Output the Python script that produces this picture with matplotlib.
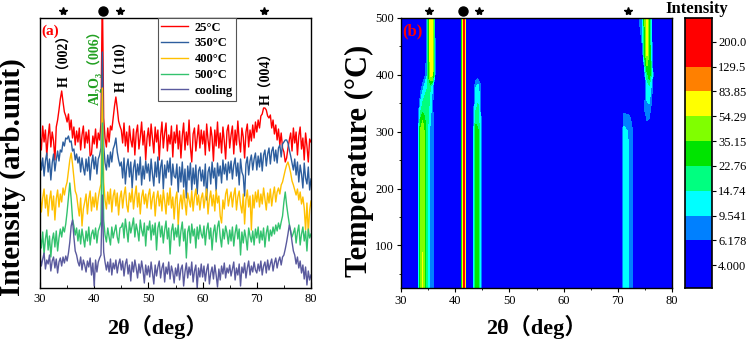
import numpy as np
import matplotlib
matplotlib.use("Agg")
import matplotlib.pyplot as plt
from matplotlib.ticker import MultipleLocator, NullLocator

plt.rcParams['font.family'] = ['Liberation Serif', 'DejaVu Serif', 'Noto Sans CJK SC']

# ---- panel (a): XRD patterns, 2theta = 30..80 step 0.25 ----
two_theta = 30 + 0.25 * np.arange(201)

i_25 = [155, 138, 162, 146, 158, 132, 151, 164, 141, 156, 147, 128, 161, 168, 178, 189, 197, 186, 176, 172,
        166, 174, 158, 168, 150, 161, 143, 157, 146, 160, 138, 153, 162, 140, 156, 145, 158, 132, 134, 152,
        144, 159, 140, 155, 148, 165, 300, 170, 150, 141, 160, 146, 162, 158, 170, 182, 191, 180, 167, 162,
        158, 145, 165, 142, 156, 136, 162, 148, 141, 159, 133, 155, 163, 139, 151, 166, 143, 157, 128, 150,
        160, 142, 164, 150, 135, 161, 146, 158, 128, 152, 166, 140, 155, 165, 137, 153, 144, 162, 131, 156,
        145, 163, 139, 157, 130, 152, 165, 138, 156, 143, 168, 141, 126, 154, 160, 137, 150, 163, 140, 158,
        144, 157, 133, 164, 148, 137, 161, 151, 127, 158, 142, 166, 140, 155, 135, 161, 147, 129, 157, 163,
        140, 153, 162, 134, 158, 143, 167, 148, 136, 160, 151, 130, 156, 164, 141, 158, 147, 163, 150, 166,
        156, 168, 160, 172, 174, 180, 180, 178, 172, 170, 173, 160, 168, 154, 163, 148, 159, 143, 155, 140,
        136, 126, 130, 140, 148, 155, 137, 160, 145, 156, 133, 152, 161, 139, 150, 128, 155, 142, 126, 149,
        146]
i_350 = [133, 118, 130, 112, 127, 135, 116, 129, 108, 125, 134, 117, 128, 137, 127, 138, 136, 146, 142, 150,
         149, 152, 146, 147, 137, 139, 128, 134, 125, 131, 116, 130, 120, 113, 129, 117, 131, 108, 124, 133,
         119, 131, 114, 129, 133, 140, 236, 142, 125, 118, 133, 121, 136, 126, 139, 143, 150, 136, 128, 122,
         126, 110, 130, 104, 121, 129, 111, 126, 100, 120, 128, 108, 124, 113, 131, 103, 122, 109, 127, 115,
         124, 107, 129, 114, 102, 126, 111, 131, 105, 121, 128, 99, 123, 110, 127, 116, 130, 103, 124, 112,
         110, 124, 96, 121, 106, 126, 101, 119, 90, 122, 108, 125, 98, 120, 104, 123, 94, 117, 121, 107,
         118, 102, 124, 88, 116, 121, 104, 126, 110, 120, 97, 125, 112, 122, 105, 128, 114, 124, 108, 126,
         115, 127, 109, 123, 130, 112, 125, 103, 129, 116, 112, 92, 124, 131, 113, 127, 133, 118, 129, 135,
         118, 132, 121, 135, 117, 133, 138, 122, 134, 140, 124, 137, 141, 127, 138, 125, 140, 143, 131, 144,
         146, 148, 148, 145, 138, 132, 125, 118, 129, 113, 126, 106, 123, 114, 100, 125, 110, 104, 121, 98,
         109]
i_400 = [96, 76, 90, 99, 80, 93, 72, 88, 97, 78, 92, 68, 89, 98, 81, 94, 86, 100, 93, 101,
         106, 117, 128, 135, 124, 110, 97, 93, 82, 72, 90, 62, 79, 86, 94, 74, 89, 97, 77, 91,
         81, 95, 78, 90, 98, 104, 200, 106, 88, 79, 96, 84, 99, 76, 92, 98, 82, 95, 73, 90,
         97, 80, 93, 101, 83, 76, 95, 86, 99, 79, 92, 102, 81, 95, 74, 91, 98, 84, 94, 80,
         93, 99, 79, 90, 96, 72, 89, 97, 82, 93, 77, 98, 87, 74, 95, 83, 100, 80, 91, 69,
         89, 96, 63, 84, 93, 79, 98, 85, 73, 95, 88, 81, 97, 77, 91, 99, 83, 93, 78, 90,
         95, 80, 91, 99, 74, 89, 97, 82, 93, 77, 98, 85, 92, 72, 65, 88, 79, 94, 99, 82,
         90, 96, 81, 93, 100, 78, 91, 97, 83, 75, 94, 64, 88, 98, 81, 92, 58, 93, 80, 96,
         86, 98, 81, 94, 84, 100, 89, 78, 95, 85, 99, 82, 93, 101, 86, 96, 100, 94, 103, 106,
         112, 118, 123, 126, 121, 115, 107, 103, 98, 93, 99, 88, 96, 84, 91, 80, 58, 85, 55, 78,
         87]
i_500 = [53, 40, 56, 34, 49, 58, 38, 52, 31, 48, 55, 41, 57, 37, 50, 59, 51, 61, 56, 64,
         76, 91, 105, 89, 69, 62, 53, 60, 47, 58, 44, 59, 50, 41, 57, 47, 61, 43, 54, 58,
         49, 60, 45, 57, 61, 66, 165, 68, 53, 46, 60, 51, 43, 61, 50, 57, 63, 51, 45, 60,
         61, 65, 50, 69, 58, 46, 66, 55, 62, 70, 51, 64, 57, 47, 68, 58, 52, 65, 42, 62,
         58, 67, 48, 63, 53, 65, 38, 60, 66, 51, 62, 45, 58, 67, 49, 60, 34, 57, 64, 48,
         60, 51, 63, 42, 57, 66, 47, 59, 30, 56, 62, 45, 64, 52, 59, 40, 61, 49, 63, 54,
         50, 62, 43, 58, 65, 49, 60, 38, 56, 63, 46, 61, 67, 51, 41, 59, 49, 62, 55, 44,
         58, 47, 61, 42, 55, 63, 49, 59, 33, 56, 45, 58, 50, 38, 60, 52, 46, 57, 43, 59,
         50, 61, 45, 57, 48, 60, 41, 55, 62, 47, 58, 52, 61, 54, 63, 57, 65, 59, 66, 72,
         86, 96, 83, 73, 64, 56, 51, 55, 60, 45, 56, 63, 43, 54, 61, 47, 57, 37, 59, 50,
         54]
i_cool = [32, 22, 29, 35, 19, 28, 24, 33, 17, 27, 31, 20, 29, 15, 26, 30, 22, 31, 25, 32,
          27, 35, 46, 62, 68, 51, 37, 33, 26, 22, 31, 18, 28, 23, 16, 27, 21, 30, 13, 25,
          2, 28, 16, 26, 30, 33, 93, 36, 26, 18, 26, 16, 29, 13, 25, 19, 28, 15, 24, 29,
          18, 27, 12, 24, 29, 14, 23, 7, 26, 16, 28, 20, 10, 24, 15, 27, 18, 5, 23, 13,
          22, 11, 26, 15, 4, 23, 12, 21, 27, 10, 20, 25, 6, 21, 14, 26, 9, 22, 16, 5,
          20, 12, 24, 8, 19, 23, 2, 16, 25, 10, 21, 13, 26, 6, 17, 23, 0, 20, 11, 24,
          11, 22, 7, 18, 24, 4, 15, 21, 9, 23, 13, 1, 19, 8, 22, 14, 25, 10, 20, 15,
          23, 12, 19, 26, 8, 20, 13, 24, 2, 21, 15, 25, 10, 20, 27, 13, 22, 16, 26, 18,
          15, 24, 17, 27, 13, 22, 26, 15, 28, 18, 24, 29, 17, 25, 30, 20, 27, 31, 23, 31,
          33, 39, 46, 54, 63, 57, 46, 37, 33, 24, 31, 20, 27, 15, 23, 9, 21, 3, 17, 8,
          13]

series = [i_25, i_350, i_400, i_500, i_cool]
labels = ['25°C', '350°C', '400°C', '500°C', 'cooling']
colors = ['#ff0000', '#2d5e9e', '#ffc000', '#33c26e', '#5a5a9e']

peak_text = ['H（002）', 'Al₂O₃（006）', 'H（110）', 'H（004）']
peak_text_x = [34.5, 40.0, 45.1, 71.9]
peak_text_y = [201, 183, 196, 183]
peak_text_col = ['black', '#22a022', 'black', 'black']

star_a = [34.3, 44.8, 71.4]
dot_a = [41.6]
star_b = [35.2, 44.4, 71.9]
dot_b = [41.5]

# ---- panel (b): intensity map ----
map_x = [30, 33.1, 33.3, 33.6, 34.0, 34.4, 34.8, 35.1, 35.4, 35.7, 36.0, 36.3,
         41.2, 41.4, 41.55, 41.7, 41.85, 42.0,
         43.3, 43.5, 43.8, 44.2, 44.6, 44.9,
         70.8, 71.1, 71.6, 72.2, 72.6, 72.9,
         74.6, 75.0, 75.4, 75.8, 76.2, 76.6, 80]
map_t = [25, 300, 340, 380, 400, 440, 500]
map_z = [
    [3.5, 3.5, 12, 40, 55, 28, 18, 11, 8, 9, 6.5, 3.5,
     3.5, 90, 250, 250, 12, 3.5,
     3.5, 12, 28, 25, 10, 3.5,
     3.5, 12, 11, 9, 7, 3.5,
     3.5, 3.5, 3.5, 3.5, 3.5, 3.5, 3.5],
    [3.5, 3.5, 11, 38, 52, 27, 17, 11, 8, 9, 6.5, 3.5,
     3.5, 90, 250, 250, 12, 3.5,
     3.5, 12, 27, 24, 10, 3.5,
     3.5, 11, 10, 9, 7, 3.5,
     3.5, 3.5, 3.5, 3.5, 3.5, 3.5, 3.5],
    [3.5, 3.5, 6, 12, 18, 20, 20, 15, 12, 8, 5, 3.5,
     3.5, 90, 250, 250, 12, 3.5,
     3.5, 7, 14, 16, 9, 3.5,
     3.5, 5, 5, 5, 4, 3.5,
     3.5, 6.5, 9, 8, 5, 3.5, 3.5],
    [3.5, 3.5, 3.5, 4, 7, 11, 14, 16, 15, 11, 5, 3.5,
     3.5, 90, 250, 250, 12, 3.5,
     3.5, 5, 9, 11, 7, 3.5,
     3.5, 3.5, 3.5, 3.5, 3.5, 3.5,
     3.5, 5, 11, 14, 9, 3.5, 3.5],
    [3.5, 3.5, 3.5, 3.5, 3.5, 5, 9, 25, 58, 62, 22, 5,
     3.5, 90, 250, 250, 12, 3.5,
     3.5, 3.5, 3.5, 3.5, 3.5, 3.5,
     3.5, 3.5, 3.5, 3.5, 3.5, 3.5,
     3.5, 6, 18, 30, 14, 4, 3.5],
    [3.5, 3.5, 3.5, 3.5, 3.5, 3.5, 7, 24, 62, 70, 24, 5,
     3.5, 90, 250, 250, 12, 3.5,
     3.5, 3.5, 3.5, 3.5, 3.5, 3.5,
     3.5, 3.5, 3.5, 3.5, 3.5, 3.5,
     6, 30, 62, 32, 8, 3.5, 3.5],
    [3.5, 3.5, 3.5, 3.5, 3.5, 3.5, 7, 25, 65, 70, 22, 4,
     3.5, 90, 250, 250, 12, 3.5,
     3.5, 3.5, 3.5, 3.5, 3.5, 3.5,
     3.5, 3.5, 3.5, 3.5, 3.5, 3.5,
     8, 35, 65, 28, 6, 3.5, 3.5],
]
map_levels = [2.69, 6.178, 9.541, 14.74, 22.76, 35.15, 54.29, 83.85, 129.5, 303]
map_colors = ['#0000ff', '#0080ff', '#00ffff', '#00ff80', '#00e400',
              '#80ff00', '#ffff00', '#ff8000', '#ff0000']
cb_ticks = [200.0, 129.5, 83.85, 54.29, 35.15, 22.76, 14.74, 9.541, 6.178, 4.0]
cb_labels = ['200.0', '129.5', '83.85', '54.29', '35.15', '22.76', '14.74', '9.541', '6.178', '4.000']

fig = plt.figure(figsize=(7.48, 3.41), dpi=100)
ax_a = fig.add_axes([40 / 748, 53 / 341, 271 / 748, 270 / 341])
ax_b = fig.add_axes([401 / 748, 53 / 341, 271 / 748, 270 / 341])
cax = fig.add_axes([685 / 748, 53 / 341, 27 / 748, 270 / 341])

# panel a
for y, lab, c in zip(series, labels, colors):
    ax_a.plot(two_theta, y, color=c, lw=1.0, label=lab)
ax_a.set_xlim(30, 80)
ax_a.set_ylim(0, 270)
ax_a.set_yticks([])
ax_a.xaxis.set_major_locator(MultipleLocator(10))
ax_a.xaxis.set_minor_locator(MultipleLocator(5))
ax_a.tick_params(axis='x', which='major', direction='in', length=4, labelsize=9)
ax_a.tick_params(axis='x', which='minor', direction='in', length=2)
ax_a.set_xlabel('2θ（deg）', fontsize=16, fontweight='bold')
ax_a.xaxis.set_label_coords(0.435, -0.1)
ax_a.set_ylabel('Intensity (arb.unit)', fontsize=21, fontweight='bold')
ax_a.yaxis.set_label_coords(-0.05, 0.41)
for t, x, y, c in zip(peak_text, peak_text_x, peak_text_y, peak_text_col):
    ax_a.text(x, y, t, rotation=90, ha='center', va='bottom', fontsize=10,
              fontweight='bold', color=c)
ax_a.text(0.004, 0.975, '(a)', transform=ax_a.transAxes, ha='left', va='top',
          fontsize=11, fontweight='bold', color='red')
leg = ax_a.legend(loc='upper left', bbox_to_anchor=(0.434, 1.0), borderaxespad=0,
                  prop={'weight': 'bold', 'size': 9}, handlelength=2.1,
                  handletextpad=0.55, labelspacing=0.3, borderpad=0.3,
                  fancybox=False, framealpha=1, edgecolor='#555555')
leg.get_frame().set_linewidth(0.8)

# panel b
ax_b.contourf(map_x, map_t, map_z, levels=map_levels, colors=map_colors)
ax_b.set_xlim(30, 80)
ax_b.set_ylim(25, 500)
ax_b.xaxis.set_major_locator(MultipleLocator(10))
ax_b.xaxis.set_minor_locator(MultipleLocator(5))
ax_b.yaxis.set_major_locator(MultipleLocator(100))
ax_b.yaxis.set_minor_locator(MultipleLocator(50))
ax_b.tick_params(which='major', direction='out', length=3, labelsize=9, pad=2)
ax_b.tick_params(which='minor', direction='out', length=1.5)
ax_b.set_xlabel('2θ（deg）', fontsize=16, fontweight='bold')
ax_b.xaxis.set_label_coords(0.5, -0.1)
ax_b.set_ylabel('Temperature (°C)', fontsize=22, fontweight='bold')
ax_b.yaxis.set_label_coords(-0.1, 0.47)
ax_b.text(0.005, 0.98, '(b)', transform=ax_b.transAxes, ha='left', va='top',
          fontsize=12, fontweight='bold', color='red')

for ax, stars, dots in [(ax_a, star_a, dot_a), (ax_b, star_b, dot_b)]:
    tr = ax.get_xaxis_transform()
    ax.plot(stars, [1.025] * len(stars), transform=tr, ls='none', marker='*',
            ms=6, color='black', clip_on=False)
    ax.plot(dots, [1.025] * len(dots), transform=tr, ls='none', marker='o',
            ms=6.5, color='black', clip_on=False)
    for s in ax.spines.values():
        s.set_linewidth(1.0)

# colour bar drawn on a log scale
cax.set_yscale('log')
for lo, hi, c in zip(map_levels[:-1], map_levels[1:], map_colors):
    cax.bar(0, hi - lo, bottom=lo, width=1, color=c)
cax.set_xlim(-0.5, 0.5)
cax.set_ylim(map_levels[0], map_levels[-1])
cax.set_xticks([])
cax.yaxis.tick_right()
cax.set_yticks(cb_ticks)
cax.set_yticklabels(cb_labels)
cax.yaxis.set_minor_locator(NullLocator())
cax.tick_params(axis='y', direction='out', length=3, labelsize=9, pad=1.5)
for s in cax.spines.values():
    s.set_linewidth(1.2)
fig.text(697 / 748, 1 - 9 / 341, 'Intensity', ha='center', va='center',
         fontsize=12, fontweight='bold')

fig.savefig('out.png', dpi=100)
